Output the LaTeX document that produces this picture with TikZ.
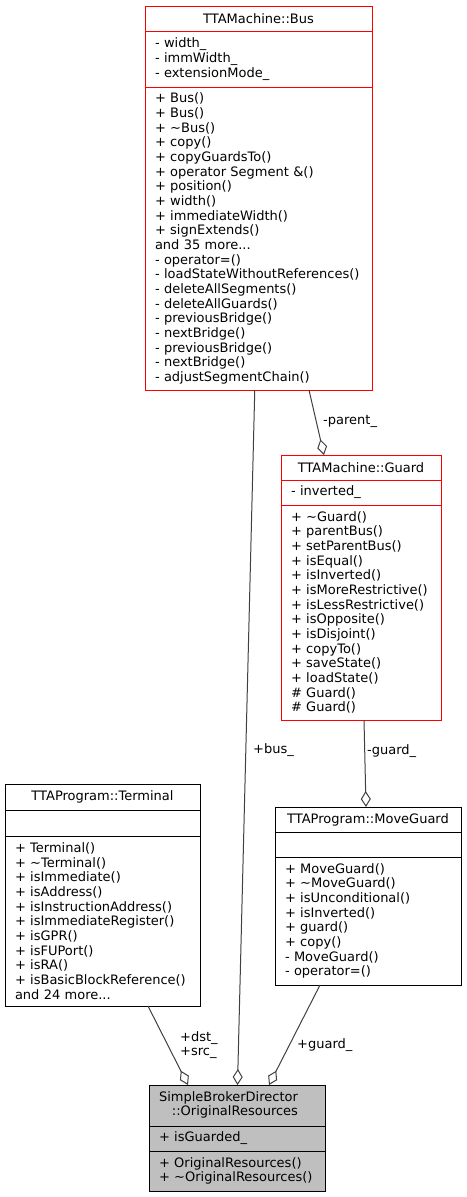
\documentclass[tikz,border=0pt]{standalone}
\usepackage{fontspec}
\setmainfont{DejaVu Sans}
\usetikzlibrary{positioning,calc,arrows.meta}
\definecolor{edgegray}{HTML}{404040}
\definecolor{boxgray}{HTML}{BFBFBF}
\definecolor{boxred}{HTML}{FF0000}

\begin{document}
\begin{tikzpicture}[x=1pt,y=-1pt,
	font=\fontsize{13}{14.67}\selectfont,
	part/.style={draw, rectangle, line width=1pt, outer sep=0pt, inner xsep=10pt, inner ysep=0pt, align=left},
	head/.style={part, align=center},
	redpart/.style={draw=boxred},
	link/.style={draw=edgegray, line width=1pt, -{Diamond[open,length=16pt,width=10pt]}},
	lbl/.style={anchor=west, inner sep=0pt, align=left}]
	\path[use as bounding box, fill=white] (0,0) rectangle (466,1197);

	% TTAMachine::Bus
	\node[head, redpart, text width=207pt, minimum height=25pt, anchor=north west] (bustitle) at (145,6) {TTAMachine::Bus};
	\node[part, redpart, text width=207pt, minimum height=56pt, below=0pt of bustitle] (busattr) {- width\_\\- immWidth\_\\- extensionMode\_};
	\node[part, redpart, text width=207pt, minimum height=303pt, below=0pt of busattr] (busops) {+ Bus()\\+ Bus()\\+ \textasciitilde Bus()\\+ copy()\\+ copyGuardsTo()\\+ operator Segment \&()\\+ position()\\+ width()\\+ immediateWidth()\\+ signExtends()\\and 35 more...\\- operator=()\\- loadStateWithoutReferences()\\- deleteAllSegments()\\- deleteAllGuards()\\- previousBridge()\\- nextBridge()\\- previousBridge()\\- nextBridge()\\- adjustSegmentChain()};

	% TTAMachine::Guard
	\node[head, redpart, text width=140pt, minimum height=25pt, anchor=north west] (guardtitle) at (281,455) {TTAMachine::Guard};
	\node[part, redpart, text width=140pt, minimum height=25pt, below=0pt of guardtitle] (guardattr) {- inverted\_};
	\node[part, redpart, text width=140pt, minimum height=215pt, below=0pt of guardattr] (guardops) {+ \textasciitilde Guard()\\+ parentBus()\\+ setParentBus()\\+ isEqual()\\+ isInverted()\\+ isMoreRestrictive()\\+ isLessRestrictive()\\+ isOpposite()\\+ isDisjoint()\\+ copyTo()\\+ saveState()\\+ loadState()\\\# Guard()\\\# Guard()};

	% TTAProgram::Terminal
	\node[head, text width=175pt, minimum height=26pt, anchor=north west] (termtitle) at (5,784) {TTAProgram::Terminal};
	\node[part, text width=175pt, minimum height=26pt, below=0pt of termtitle] (termattr) {};
	\node[part, text width=175pt, minimum height=170pt, below=0pt of termattr] (termops) {+ Terminal()\\+ \textasciitilde Terminal()\\+ isImmediate()\\+ isAddress()\\+ isInstructionAddress()\\+ isImmediateRegister()\\+ isGPR()\\+ isFUPort()\\+ isRA()\\+ isBasicBlockReference()\\and 24 more...};

	% TTAProgram::MoveGuard
	\node[head, text width=166pt, minimum height=25pt, anchor=north west] (mgtitle) at (275,807) {TTAProgram::MoveGuard};
	\node[part, text width=166pt, minimum height=25pt, below=0pt of mgtitle] (mgattr) {};
	\node[part, text width=166pt, minimum height=128pt, below=0pt of mgattr] (mgops) {+ MoveGuard()\\+ \textasciitilde MoveGuard()\\+ isUnconditional()\\+ isInverted()\\+ guard()\\+ copy()\\- MoveGuard()\\- operator=()};

	% SimpleBrokerDirector::OriginalResources
	\node[part, fill=boxgray, text width=156pt, minimum height=41pt, anchor=north west] (origtitle) at (149,1085) {\begin{tabular}{@{}r@{}}SimpleBrokerDirector\\::OriginalResources\end{tabular}};
	\node[part, fill=boxgray, text width=156pt, minimum height=25pt, below=0pt of origtitle] (origattr) {+ isGuarded\_};
	\node[part, fill=boxgray, text width=156pt, minimum height=40pt, below=0pt of origattr] (origops) {+ OriginalResources()\\+ \textasciitilde OriginalResources()};

	% connectors
	\draw[link] (busops) -- (origtitle);
	\draw[link] ($(busops.south west)+(164,0)$) -- ($(guardtitle.north west)+(43,0)$);
	\draw[link] ($(guardops.south west)+(83,0)$) -- ($(mgtitle.north west)+(91,0)$);
	\draw[link] ($(termops.south west)+(143,0)$) -- ($(origtitle.north west)+(39,0)$);
	\draw[link] ($(mgops.south west)+(45,0)$) -- ($(origtitle.north west)+(120,0)$);

	\node[lbl] (parentlbl) at (323,421) {-parent\_};
	\node[lbl] (buslbl) at (253,750) {+bus\_};
	\node[lbl] (guardlbl) at (367,751) {-guard\_};
	\node[lbl] (dstlbl) at (180,1045) {+dst\_\\+src\_};
	\node[lbl] (mguardlbl) at (297,1045) {+guard\_};
\end{tikzpicture}
\end{document}
